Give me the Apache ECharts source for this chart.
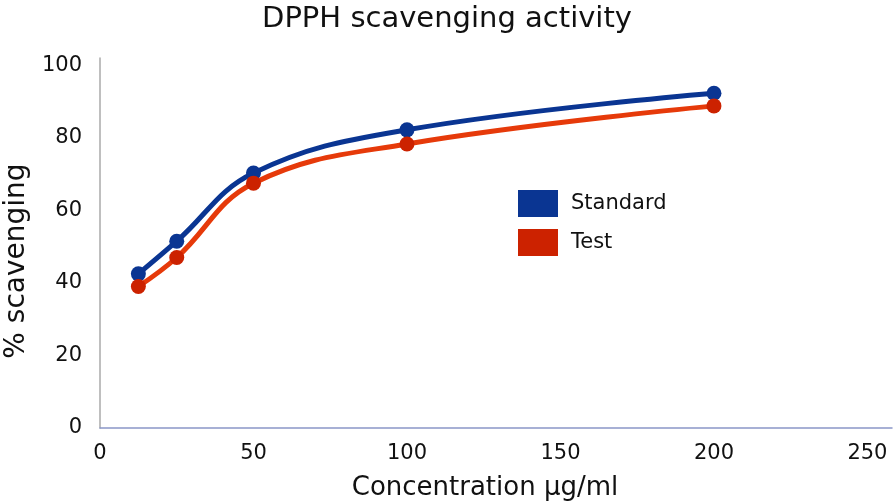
<!DOCTYPE html>
<html>
<head>
<meta charset="utf-8">
<script src="https://cdn.jsdelivr.net/npm/echarts@6/dist/echarts.min.js"></script>
<style>
html, body { margin: 0; padding: 0; background: #fff; }
#chart { width: 894px; height: 503px; }
</style>
</head>
<body>
<div id="chart"></div>
<script>
var concentrations = [12.5, 25, 50, 100, 200];
var standardValues = [42.5, 51.5, 70.3, 82.2, 92.3];
var testValues = [39, 47, 67.5, 78.3, 88.8];

function pairs(xs, ys) {
	return xs.map(function(x, i) { return [x, ys[i]]; });
}

var font = "DejaVu Sans";
var myChart = echarts.init(document.getElementById("chart"));
var option = {
	animation: false,
	title: {
		text: "DPPH scavenging activity",
		left: "center",
		top: 0,
		textStyle: { fontFamily: font, fontSize: 29, fontWeight: "normal", color: "#111" }
	},
	legend: {
		orient: "vertical",
		left: 513,
		top: 185,
		itemWidth: 40,
		itemHeight: 27,
		itemGap: 12,
		icon: "rect",
		textStyle: { fontFamily: font, fontSize: 21, color: "#111", padding: [0, 0, 0, 8] },
		data: ["Standard", "Test"]
	},
	grid: { left: 100, right: 2, top: 58, bottom: 75, outerBoundsMode: "none" },
	xAxis: {
		type: "value",
		min: 0,
		max: 258,
		interval: 50,
		name: "Concentration µg/ml",
		nameLocation: "middle",
		nameGap: 47,
		nameTextStyle: { fontFamily: font, fontSize: 26, color: "#111", padding: [0, 22, 0, 0] },
		axisLine: { lineStyle: { color: "#8a96c8", width: 1.5 } },
		axisTick: { show: false },
		splitLine: { show: false },
		axisLabel: {
			fontFamily: font, fontSize: 21, color: "#111", margin: 15,
			showMaxLabel: false,
			formatter: function(v) { return v % 50 === 0 ? v : ""; }
		}
	},
	yAxis: {
		type: "value",
		min: 0,
		max: 102,
		interval: 20,
		name: "% scavenging",
		nameLocation: "middle",
		nameGap: 67,
		nameTextStyle: { fontFamily: font, fontSize: 28, color: "#111", padding: [0, 36, 0, 0] },
		axisLine: { show: true, lineStyle: { color: "#aaa", width: 1.5 } },
		axisTick: { show: false },
		splitLine: { show: false },
		axisLabel: {
			fontFamily: font, fontSize: 21, color: "#111", margin: 18,
			showMaxLabel: false,
			formatter: function(v) { return v % 20 === 0 ? v : ""; }
		}
	},
	series: [{
		name: "Standard",
		type: "line",
		smooth: 0.4,
		data: pairs(concentrations, standardValues),
		symbol: "circle",
		symbolSize: 15,
		itemStyle: { color: "#0a3592" },
		lineStyle: { color: "#0a3592", width: 5 }
	}, {
		name: "Test",
		type: "line",
		smooth: 0.4,
		data: pairs(concentrations, testValues),
		symbol: "circle",
		symbolSize: 15,
		itemStyle: { color: "#cc2200" },
		lineStyle: { color: "#e63a0a", width: 5 }
	}]
};
myChart.setOption(option);
</script>
</body>
</html>
